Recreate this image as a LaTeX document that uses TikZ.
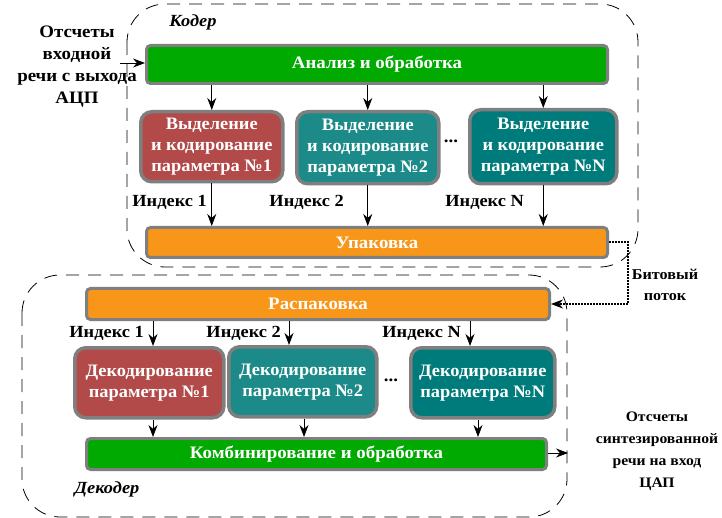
\documentclass[tikz,border=0pt]{standalone}
\usepackage{fontspec}
\setmainfont{Liberation Serif}[FakeStretch=1.08]
\newfontfamily\boxfont{Liberation Serif}[FakeStretch=1.05]
\usetikzlibrary{arrows.meta,calc}
\definecolor{bgreen}{HTML}{00AA00}
\definecolor{borange}{HTML}{F8961A}
\definecolor{bred}{HTML}{B24A4A}
\definecolor{bteal}{HTML}{1B8A88}
\definecolor{bteald}{HTML}{007B7B}
\definecolor{bgray}{HTML}{7F7F7F}
\tikzset{
  bar/.style={draw=bgray, line width=3pt, rounded corners=4pt, text=white,
    font=\bfseries\fontsize{17.5}{20}\selectfont, inner sep=0pt, anchor=north west},
  pbox/.style={draw=bgray, line width=3.5pt, rounded corners=11pt, text=white, align=center,
    font=\boxfont\bfseries\fontsize{17.5}{21}\selectfont, inner sep=0pt, anchor=north west},
  lbl/.style={font=\bfseries\fontsize{17.5}{22}\selectfont, align=center, inner sep=0pt},
  idx/.style={font=\bfseries\fontsize{17}{20}\selectfont, inner sep=0pt, anchor=east},
  ttl/.style={font=\bfseries\itshape\fontsize{17}{20}\selectfont, inner sep=0pt},
  arr/.style={-{Stealth[length=12pt,width=9pt]}, line width=0.8pt},
  grp/.style={dash pattern=on 13pt off 9pt, line width=0.8pt, rounded corners=38pt},
}
\begin{document}
\begin{tikzpicture}[x=1pt,y=-1pt]
\useasboundingbox (0,0) rectangle (722,518);
% group frames
\draw[grp] (127,4) rectangle (638,267);
\draw[grp] (22,275) rectangle (567,517);
\node[ttl] (coder) at (193,22) {Кодер};
\node[ttl] (decoder) at (107,489) {Декодер};
% coder
\node[bar, fill=bgreen, minimum width=461pt, minimum height=38pt] (anal) at (145,44) {Анализ и обработка};
\node[pbox, fill=bred, minimum width=142pt, minimum height=70pt] (c1) at (139,110) {Выделение\\и кодирование\\параметра №1};
\node[pbox, fill=bteal, minimum width=142pt, minimum height=72pt] (c2) at (295,110) {Выделение\\и кодирование\\параметра №2};
\node[pbox, fill=bteald, minimum width=147pt, minimum height=74pt] (cN) at (468,108) {Выделение\\и кодирование\\параметра №N};
\node[lbl] (cdots) at (451,141) {...};
\node[bar, fill=borange, minimum width=461pt, minimum height=30pt] (upak) at (145,226) {Упаковка};
\node[idx] (ci1) at (207,202) {Индекс 1};
\node[idx] (ci2) at (344,202) {Индекс 2};
\node[idx] (ciN) at (524,202) {Индекс N};
\foreach \n in {c1,c2,cN}{
  \draw[arr] (anal.south -| \n.center) -- (\n.north);
  \draw[arr] (\n.south) -- (upak.north -| \n.center);
}
\node[lbl] (inp) at (77,67) {Отсчеты\\входной\\речи с выхода\\АЦП};
\coordinate (inpt) at (120,63);
\draw[arr] (inpt) -- (anal.west |- inpt);
% decoder
\node[bar, fill=borange, minimum width=463pt, minimum height=31pt] (rasp) at (85,287) {Распаковка};
\node[pbox, fill=bred, minimum width=149pt, minimum height=70pt] (d1) at (73,346) {Декодирование\\параметра №1};
\node[pbox, fill=bteal, minimum width=148pt, minimum height=70pt] (d2) at (227,345) {Декодирование\\параметра №2};
\node[pbox, fill=bteald, minimum width=144pt, minimum height=70pt] (dN) at (409,346) {Декодирование\\параметра №N};
\node[lbl] (ddots) at (391,380) {...};
\node[bar, fill=bgreen, minimum width=460pt, minimum height=31pt] (komb) at (85,437) {Комбинирование и обработка};
\coordinate (x1) at (153,0);
\coordinate (x2) at (289,0);
\coordinate (xN) at (470,0);
\coordinate (y1) at (153,0);
\coordinate (y2) at (304,0);
\coordinate (yN) at (478,0);
\draw[arr] (rasp.south -| x1) -- (d1.north -| x1);
\draw[arr] (rasp.south -| x2) -- (d2.north -| x2);
\draw[arr] (rasp.south -| xN) -- (dN.north -| xN);
\draw[arr] (d1.south -| y1) -- (komb.north -| y1);
\draw[arr] (d2.south -| y2) -- (komb.north -| y2);
\draw[arr] (dN.south -| yN) -- (komb.north -| yN);
\node[idx] (di1) at (144,333) {Индекс 1};
\node[idx] (di2) at (281,333) {Индекс 2};
\node[idx] (diN) at (461,333) {Индекс N};
\coordinate (outp) at (568,453);
\draw[arr] (komb.east |- outp) -- (outp);
\node[lbl, font=\bfseries\fontsize{14.5}{22}\selectfont] (out) at (657,451) {Отсчеты\\синтезированной\\речи на вход\\ЦАП};
% bit stream
\coordinate (bt) at (628,0);
\draw[line width=2pt, densely dotted] (upak.east) -- (upak.east -| bt) -- (rasp.east -| bt) -- ($(rasp.east)+(8,0)$);
\draw[arr] ($(rasp.east)+(9,0)$) -- (rasp.east);
\node[font=\bfseries\fontsize{15}{21}\selectfont, align=center, inner sep=0pt] (bit) at (665,285) {Битовый\\поток};
\end{tikzpicture}
\end{document}
